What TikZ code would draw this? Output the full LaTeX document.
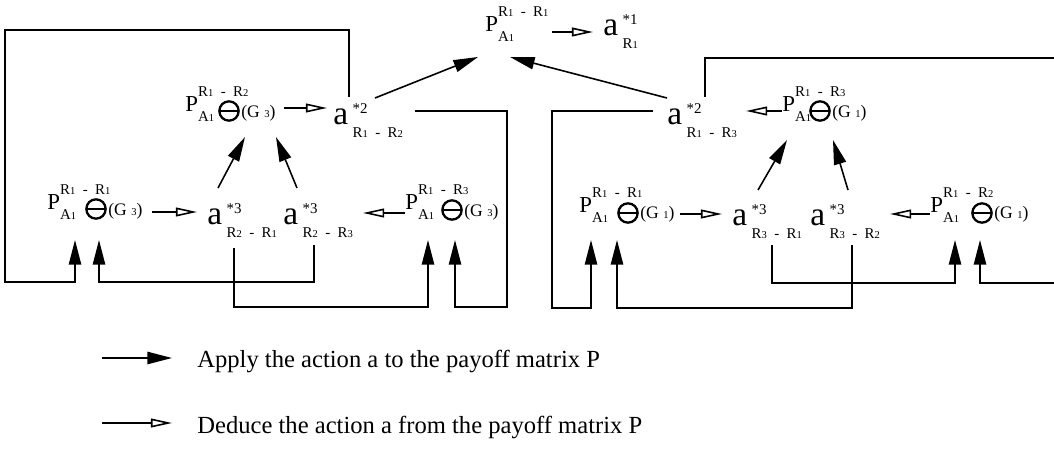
\documentclass[tikz,border=0pt]{standalone}
\usepackage{fontspec}
\setmainfont{Liberation Serif}
\usetikzlibrary{arrows.meta,calc}

% small digits, R with index, stacked indices
\newcommand{\dg}[1]{{\fontsize{6}{6}\selectfont #1}}
\newcommand{\Rg}[1]{R\dg{#1}}
\newcommand{\updn}[4]{$^{\hbox{\fontsize{8.5}{9}\selectfont\raisebox{#1}{#3}}}_{\hbox{\fontsize{8.5}{9}\selectfont\raisebox{#2}{#4}}}$}
\newcommand{\Pm}[2]{P\updn{4.5pt}{-2.5pt}{\Rg{#1}\enspace-\enspace\Rg{#2}}{A\dg{1}}}
\newcommand{\Ac}[2]{a\kern2.5pt\updn{0.5pt}{-2.7pt}{#1}{#2}}

\tikzset{
  pay/.style={anchor=base west, inner sep=0pt, font=\fontsize{13}{13}\selectfont},
  act/.style={anchor=base west, inner sep=0pt, font=\fontsize{19}{19}\selectfont},
  grp/.style={anchor=base west, inner sep=0pt, font=\fontsize{10}{10}\selectfont},
  legend/.style={anchor=base west, inner sep=0pt, font=\fontsize{14}{14}\selectfont},
  omin/.style={circle, draw, line width=1.3pt, minimum size=11pt, inner sep=0pt,
    path picture={\draw[line width=1.3pt] (path picture bounding box.west) -- (path picture bounding box.east);}},
  apply/.style={-{Triangle[length=14pt,width=7pt]}, line width=0.9pt},
  deduce/.style={-{Triangle[open,length=12pt,width=5pt]}, line width=0.9pt}
}

\begin{document}
\begin{tikzpicture}[x=0.02cm, y=-0.02cm]
  \useasboundingbox (0,0) rectangle (1054,469);

  % top level
  \node[pay] (pT) at (485,32) {\Pm{1}{1}};
  \node[act] (aT) at (603,36) {\Ac{*1}{\Rg{1}}};

  % second level
  \node[pay] (pL2) at (185,112) {\Pm{1}{2}};
  \node[omin] (cL2) at (229,111) {};
  \node[grp] (gL2) at (241,118) {(G \dg{3})};
  \node[act] (aL2) at (333,125) {\Ac{*2}{\Rg{1}\enspace-\enspace\Rg{2}}};
  \node[act] (aR2) at (667,125) {\Ac{*2}{\Rg{1}\enspace-\enspace\Rg{3}}};
  \node[pay] (pR2) at (782,112) {\Pm{1}{3}};
  \node[omin] (cR2) at (820,111) {};
  \node[grp] (gR2) at (832,118) {(G \dg{1})};

  % third level, left
  \node[pay] (pB1) at (47,210) {\Pm{1}{1}};
  \node[omin] (cB1) at (96,209) {};
  \node[grp] (gB1) at (108,216) {(G \dg{3})};
  \node[act] (aB1) at (207,225) {\Ac{*3}{\Rg{2}\enspace-\enspace\Rg{1}}};
  \node[act] (aB2) at (283,225) {\Ac{*3}{\Rg{2}\enspace-\enspace\Rg{3}}};
  \node[pay] (pB2) at (405,210) {\Pm{1}{3}};
  \node[omin] (cB2) at (452,210) {};
  \node[grp] (gB2) at (464,217) {(G \dg{3})};

  % third level, right
  \node[pay] (pB3) at (579,213) {\Pm{1}{1}};
  \node[omin] (cB3) at (628,213) {};
  \node[grp] (gB3) at (640,219) {(G \dg{1})};
  \node[act] (aB3) at (732,226) {\Ac{*3}{\Rg{3}\enspace-\enspace\Rg{1}}};
  \node[act] (aB4) at (810,226) {\Ac{*3}{\Rg{3}\enspace-\enspace\Rg{2}}};
  \node[pay] (pB4) at (930,213) {\Pm{1}{2}};
  \node[omin] (cB4) at (982,213) {};
  \node[grp] (gB4) at (994,219) {(G \dg{1})};

  % deductions
  \draw[deduce] ($(pT.base west)+(67,0)$) -- ($(aT.base west)+(-10,-4)$);
  \draw[deduce] ($(pL2.base west)+(99,-4)$) -- ($(aL2.base west)+(-6,-17)$);
  \draw[deduce] ($(pR2.base west)+(0,-1)$) -- ($(aR2.base west)+(79,-14)$);
  \draw[deduce] ($(pB1.base west)+(105,2)$) -- ($(aB1.base west)+(-10,-13)$);
  \draw[deduce] ($(pB2.base west)+(0,3)$) -- ($(aB2.base west)+(80,-12)$);
  \draw[deduce] ($(pB3.base west)+(101,1)$) -- ($(aB3.base west)+(-10,-12)$);
  \draw[deduce] ($(pB4.base west)+(0,1)$) -- ($(aB4.base west)+(80,-12)$);

  % actions applied one level up
  \draw[apply] ($(aL2.base west)+(42,-27)$) -- ($(pT.base west)+(-7,25)$);
  \draw[apply] ($(aR2.base west)+(0,-27)$) -- ($(pT.base west)+(25,25)$);
  \draw[apply] ($(aB1.base west)+(11,-37)$) -- ($(pL2.base west)+(60,25)$);
  \draw[apply] ($(aB2.base west)+(14,-37)$) -- ($(pL2.base west)+(91,25)$);
  \draw[apply] ($(aB3.base west)+(26,-36)$) -- ($(pR2.base west)+(5,28)$);
  \draw[apply] ($(aB4.base west)+(38,-36)$) -- ($(pR2.base west)+(51,28)$);

  % actions applied across
  \draw[apply] ($(aL2.base west)+(16,-28)$) |- (5,30) -- (5,282) -| ($(pB1.base west)+(28,30)$);
  \draw[apply] ($(aL2.base west)+(82,-14)$) -| (507,307) -| ($(pB2.base west)+(50,30)$);
  \draw[apply] ($(aB1.base west)+(27,23)$) -- ++(0,59) -| ($(pB2.base west)+(23,30)$);
  \draw[apply] ($(aB2.base west)+(31,20)$) -- ++(0,37) -| ($(pB1.base west)+(52,30)$);
  \draw[apply] ($(aR2.base west)+(38,-28)$) |- (1058,58) -- (1058,283) -| ($(pB4.base west)+(50,27)$);
  \draw[apply] ($(aR2.base west)+(-14,-14)$) -| (552,308) -| ($(pB3.base west)+(12,27)$);
  \draw[apply] ($(aB3.base west)+(40,19)$) -- ++(0,38) -| ($(pB4.base west)+(25,27)$);
  \draw[apply] ($(aB4.base west)+(42,19)$) -- ++(0,63) -| ($(pB3.base west)+(38,27)$);

  % legend
  \coordinate (k1) at (102,358);
  \coordinate (k2) at (102,423);
  \node[legend] (t1) at (197,367) {Apply the action a to the payoff matrix P};
  \node[legend] (t2) at (197,433) {Deduce the action a from the payoff matrix P};
  \draw[apply] (k1) -- ($(t1.base west)+(-25,-9)$);
  \draw[deduce] (k2) -- ($(t2.base west)+(-25,-10)$);
\end{tikzpicture}
\end{document}
